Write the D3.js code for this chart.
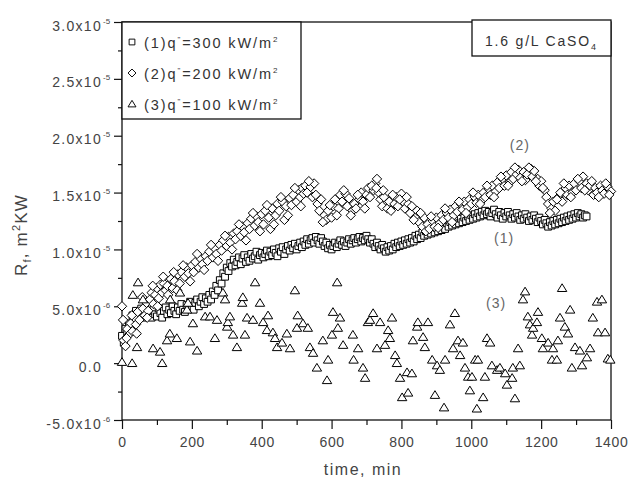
<!DOCTYPE html>
<html>
<head>
<meta charset="utf-8">
<script src="https://cdn.jsdelivr.net/npm/d3@7"></script>
<style>
  body { margin: 0; background: #fff; }
  text { font-family: "Liberation Sans", Arial, sans-serif; }
</style>
</head>
<body>
<svg id="chart"></svg>
<script>
// fouling resistance, values in 1e-6 m2K/W, time in min
const series1 = [[0,2.4],[5,1.8],[10,3.0],[15,2.6],[20,3.5],[25,3.1],[30,4.2],[35,3.6],[40,4.6],[45,3.9],[50,4.3],[55,4.8],[60,4.0],[65,4.6],[70,4.2],[75,4.9],[80,4.4],[85,4.0],[90,4.7],[95,4.3],[100,4.1],[105,4.8],[110,4.4],[115,4.0],[120,4.6],[125,4.9],[130,4.3],[135,4.7],[140,4.4],[145,5.0],[150,4.6],[155,4.3],[160,4.9],[165,4.6],[170,5.2],[175,4.7],[180,4.5],[185,5.1],[190,4.8],[195,5.4],[200,5.0],[205,4.7],[210,5.3],[215,5.6],[220,5.0],[225,5.4],[230,5.8],[235,5.2],[240,5.7],[245,5.4],[250,6.0],[255,5.6],[260,6.3],[265,6.0],[270,6.8],[275,6.4],[280,7.3],[285,7.0],[290,7.9],[295,7.6],[300,8.4],[305,8.1],[310,8.8],[315,8.5],[320,9.1],[325,8.6],[330,8.9],[335,9.3],[340,8.7],[345,9.2],[350,9.5],[355,8.9],[360,9.3],[365,9.0],[370,9.6],[375,9.2],[380,9.4],[385,9.8],[390,9.1],[395,9.5],[400,9.7],[405,9.3],[410,9.6],[415,9.9],[420,9.4],[425,9.8],[430,9.5],[435,10.0],[440,9.7],[445,9.4],[450,10.1],[455,9.8],[460,10.2],[465,9.6],[470,10.0],[475,10.3],[480,9.9],[485,10.4],[490,10.1],[495,10.5],[500,10.0],[505,10.3],[510,10.6],[515,10.2],[520,10.7],[525,10.4],[530,10.9],[535,10.5],[540,10.8],[545,11.0],[550,10.6],[555,11.1],[560,10.8],[565,10.5],[570,11.0],[575,10.7],[580,10.3],[585,10.6],[590,10.1],[595,10.4],[600,10.0],[605,10.3],[610,10.6],[615,10.2],[620,10.5],[625,10.8],[630,10.4],[635,10.7],[640,10.3],[645,10.6],[650,10.9],[655,10.5],[660,10.8],[665,11.0],[670,10.6],[675,10.9],[680,11.1],[685,10.7],[690,11.0],[695,10.8],[700,11.2],[705,10.9],[710,10.6],[715,10.9],[720,10.5],[725,10.2],[730,10.6],[735,10.3],[740,10.0],[745,10.4],[750,10.1],[755,9.8],[760,10.2],[765,9.9],[770,10.3],[775,10.0],[780,10.5],[785,10.2],[790,10.6],[795,10.3],[800,10.7],[805,10.4],[810,10.8],[815,10.5],[820,10.9],[825,10.6],[830,11.0],[835,10.7],[840,11.2],[845,10.9],[850,11.3],[855,11.0],[860,11.5],[865,11.2],[870,11.6],[875,11.3],[880,11.7],[885,11.4],[890,11.8],[895,11.5],[900,11.9],[905,11.6],[910,12.0],[915,11.7],[920,12.1],[925,11.8],[930,12.3],[935,12.0],[940,12.4],[945,12.1],[950,12.5],[955,12.2],[960,12.6],[965,12.3],[970,12.7],[975,12.4],[980,12.8],[985,12.5],[990,12.9],[995,12.6],[1000,13.0],[1005,12.7],[1010,13.1],[1015,12.8],[1020,13.2],[1025,12.9],[1030,13.3],[1035,13.0],[1040,13.4],[1045,13.1],[1050,13.3],[1055,12.9],[1060,13.2],[1065,13.5],[1070,13.1],[1075,12.8],[1080,13.3],[1085,13.0],[1090,12.7],[1095,13.2],[1100,12.9],[1105,13.3],[1110,13.0],[1115,12.7],[1120,13.1],[1125,12.8],[1130,13.2],[1135,12.9],[1140,12.6],[1145,13.0],[1150,12.7],[1155,13.1],[1160,12.8],[1165,12.5],[1170,12.9],[1175,12.6],[1180,13.0],[1185,12.7],[1190,12.4],[1195,12.8],[1200,12.5],[1205,12.2],[1210,12.6],[1215,12.3],[1220,12.0],[1225,12.4],[1230,12.1],[1235,12.5],[1240,12.2],[1245,12.6],[1250,12.3],[1255,12.7],[1260,12.4],[1265,12.8],[1270,12.5],[1275,12.9],[1280,12.6],[1285,13.0],[1290,12.7],[1295,13.1],[1300,12.8],[1305,13.2],[1310,12.9],[1315,13.1],[1320,12.8],[1325,13.0],[1330,12.9]];

const series2 = [[0,5.0],[5,2.0],[10,1.5],[15,3.0],[20,2.5],[25,3.5],[30,2.8],[35,4.0],[40,3.4],[45,4.5],[50,3.8],[60,4.8],[65,4.2],[70,5.3],[75,4.6],[80,5.6],[85,6.2],[90,5.2],[95,6.0],[100,6.6],[105,5.7],[110,6.9],[115,6.2],[120,7.0],[125,6.4],[130,6.8],[140,7.4],[145,6.6],[150,7.2],[160,7.8],[165,7.0],[170,8.0],[180,7.6],[185,8.4],[190,7.9],[200,8.6],[205,8.0],[210,8.9],[220,8.4],[225,9.2],[230,8.7],[240,9.4],[245,9.0],[250,9.8],[260,9.3],[265,10.1],[270,9.6],[280,10.4],[285,9.9],[290,10.8],[300,10.3],[305,11.1],[310,10.6],[320,11.4],[325,10.9],[330,11.6],[340,11.2],[345,12.0],[350,11.5],[360,12.3],[365,11.8],[370,12.7],[380,12.1],[385,12.9],[390,12.4],[400,13.1],[405,12.2],[410,13.4],[420,12.8],[425,11.8],[430,13.6],[440,13.0],[445,14.0],[450,13.4],[460,14.2],[465,12.6],[470,13.8],[480,14.5],[485,13.9],[490,14.8],[500,14.2],[505,15.2],[510,14.6],[515,15.4],[520,14.9],[525,15.6],[530,15.0],[540,15.5],[545,14.6],[550,15.8],[560,14.0],[565,13.4],[570,14.4],[580,13.0],[585,12.6],[590,13.4],[600,12.8],[605,13.8],[610,14.4],[620,13.6],[625,14.8],[630,14.2],[640,14.9],[645,13.8],[650,14.5],[660,13.4],[665,14.0],[670,13.6],[680,14.4],[685,15.0],[690,14.2],[700,14.8],[705,15.4],[710,14.6],[720,15.2],[725,15.8],[730,16.2],[735,15.0],[740,14.4],[745,13.8],[750,14.6],[760,13.6],[765,14.2],[770,13.4],[780,14.0],[785,14.6],[790,13.8],[800,14.9],[805,14.2],[810,13.6],[820,14.0],[825,13.2],[830,13.8],[840,12.8],[845,13.4],[850,12.4],[860,12.0],[865,12.8],[870,11.6],[875,12.2],[880,11.8],[890,12.5],[895,12.0],[900,12.8],[910,12.3],[915,13.0],[920,12.6],[930,13.2],[935,12.8],[940,13.5],[950,13.0],[955,13.8],[960,13.3],[970,14.0],[975,13.5],[980,14.2],[990,13.7],[995,14.4],[1000,14.0],[1010,14.6],[1015,14.1],[1020,14.8],[1030,14.3],[1035,15.0],[1040,14.6],[1050,15.3],[1055,14.8],[1060,15.6],[1070,15.1],[1075,15.9],[1080,15.4],[1090,16.2],[1095,15.6],[1100,16.5],[1110,15.9],[1115,16.8],[1120,16.2],[1130,16.6],[1135,17.0],[1140,16.3],[1150,16.8],[1155,16.1],[1160,16.6],[1170,17.1],[1175,16.4],[1180,16.9],[1190,16.2],[1195,15.6],[1200,16.0],[1210,15.2],[1215,14.6],[1220,14.0],[1230,13.6],[1235,14.2],[1240,13.4],[1250,14.6],[1255,15.0],[1260,14.2],[1270,15.4],[1275,14.8],[1280,15.6],[1290,15.0],[1295,15.8],[1300,15.2],[1310,16.0],[1315,15.4],[1320,16.4],[1330,15.8],[1335,15.2],[1340,15.6],[1350,14.8],[1355,15.4],[1360,15.0],[1370,15.6],[1375,15.2],[1380,14.9],[1390,15.5],[1400,15.1],
  [3,3.8],[13,2.2],[28,4.2],[42,2.6],[58,5.8],[72,4.0],[88,6.8],[102,5.0],[118,7.6],[132,6.0],[148,8.0],[158,6.4],[175,8.6],[195,7.2],[215,9.6],[235,8.2],[255,10.4],[275,9.0],[295,11.2],[315,10.0],[335,12.2],[355,10.8],[375,13.2],[395,11.6],[415,13.9],[435,12.2],[455,14.6],[475,13.0],[495,15.4],[512,13.8],[535,16.0],[555,14.8],[575,12.4],[595,13.9],[615,13.0],[635,15.2],[655,13.0],[675,14.8],[695,13.6],[715,15.6],[728,15.4],[748,15.2],[775,14.8],[795,14.4],[815,14.6],[835,12.6],[855,13.2],[885,12.9],[905,11.9],[925,13.6],[945,12.4],[965,14.2],[985,13.2],[1005,15.0],[1025,14.0],[1045,15.6],[1065,14.6],[1085,16.4],[1105,15.6],[1125,17.2],[1145,16.0],[1165,17.2],[1185,16.0],[1205,15.4],[1225,13.2],[1245,14.4],[1265,15.8],[1285,14.6],[1305,16.2],[1325,15.2],[1345,16.0],[1365,14.6],[1385,15.8],[1395,14.8]];

const series3 = [[0,0.1],[29,0],[31,6.0],[43,1.4],[46,7.1],[60,5.6],[89,1.3],[109,1.0],[115,0],[129,2.0],[137,2.6],[138,5.6],[157,2.2],[166,6.2],[186,4.7],[189,5.3],[195,1.9],[203,3.5],[215,1.1],[238,4.1],[252,4.1],[266,2.2],[272,3.8],[289,6.2],[295,5.6],[301,3.2],[303,3.6],[309,4.1],[318,2.5],[329,1.4],[344,5.3],[346,5.8],[352,2.5],[358,4.0],[375,3.8],[381,7.1],[395,5.3],[404,3.6],[415,2.9],[418,4.2],[432,2.7],[438,2.2],[444,1.4],[458,1.8],[472,2.6],[481,1.3],[495,6.4],[501,3.1],[503,4.2],[518,3.5],[532,3.1],[538,1.4],[547,0.9],[558,-0.4],[575,2.0],[587,-1.5],[590,0.3],[601,2.5],[604,4.5],[616,7.1],[618,3.1],[624,4.0],[633,1.6],[661,2.5],[663,0.3],[676,1.3],[690,-0.4],[696,-1.3],[704,3.6],[710,3.8],[719,4.4],[730,1.3],[739,3.6],[753,1.6],[762,2.9],[767,2.2],[773,4.0],[782,0.7],[787,0],[796,-1.3],[802,-3.0],[816,-0.8],[819,-2.6],[830,-0.9],[833,2.0],[845,3.2],[847,3.6],[862,2.3],[867,1.4],[876,3.6],[888,0.3],[896,-2.8],[902,-0.2],[910,-0.6],[922,-3.9],[925,0.3],[939,3.4],[948,1.3],[953,4.4],[962,2.0],[968,0.7],[976,1.8],[982,-0.4],[991,-1.2],[996,-2.4],[1002,-1.2],[1011,0.3],[1016,-4.0],[1019,0.3],[1034,-3.0],[1039,-1.2],[1045,2.2],[1054,1.8],[1059,-0.2],[1074,-0.6],[1082,-0.4],[1097,-0.9],[1102,-1.9],[1117,-1.3],[1119,-0.4],[1125,-3.1],[1134,1.3],[1139,-0.2],[1148,5.6],[1154,6.3],[1162,4.1],[1168,3.4],[1174,2.5],[1177,3.1],[1188,3.6],[1191,4.5],[1202,2.2],[1205,1.3],[1220,1.8],[1231,0.3],[1234,1.3],[1245,0.3],[1248,2.0],[1254,4.0],[1260,6.6],[1268,3.2],[1277,2.6],[1283,4.7],[1288,-0.4],[1297,1.4],[1311,1.1],[1317,-0.2],[1331,0.5],[1340,1.3],[1348,4.0],[1360,5.4],[1363,2.7],[1374,5.6],[1383,2.7],[1391,0.4],[1398,0.3]];

const xTicks = [0, 200, 400, 600, 800, 1000, 1200, 1400];
const xMinorTicks = [100, 300, 500, 700, 900, 1100, 1300];
const yTicks = [-5e-6, 0, 5e-6, 1e-5, 1.5e-5, 2e-5, 2.5e-5, 3e-5];
const yTickLabels = [['-5.0x10', '-6'], ['0.0', ''], ['5.0x10', '-6'], ['1.0x10', '-5'],
  ['1.5x10', '-5'], ['2.0x10', '-5'], ['2.5x10', '-5'], ['3.0x10', '-5']];
const yMinorTicks = [-2.5e-6, 2.5e-6, 7.5e-6, 1.25e-5, 1.75e-5, 2.25e-5, 2.75e-5];
const legendNames = ['(1)', '(2)', '(3)'];
const legendFlux = ['=300 kW/m', '=200 kW/m', '=100 kW/m'];
// curve labels: [text, time, value in 1e-6]
const curveLabels = [['(2)', 1139, 18.7], ['(1)', 1094, 10.6], ['(3)', 1071, 4.85]];

const width = 628, height = 480;
const margin = { top: 22, right: 17, bottom: 60, left: 122 };
const E6 = 1e-6;

const svg = d3.select('#chart').attr('width', width).attr('height', height);

const x = d3.scaleLinear().domain([0, 1400]).range([margin.left, width - margin.right]);
const y = d3.scaleLinear().domain([-5e-6, 3e-5]).range([height - margin.bottom, margin.top]);

const symbols = [
  'M-3.4,-3.4H3.4V3.4H-3.4Z',
  'M0,-4.7L4.7,0L0,4.7L-4.7,0Z',
  'M0,-4.3L4.7,3.4H-4.7Z'
];

// axes
const xAxis = svg.append('g')
  .attr('transform', `translate(0,${y.range()[0]})`)
  .call(d3.axisBottom(x).tickValues(xTicks).tickSize(9).tickPadding(8)
    .tickSizeOuter(0).tickFormat(d3.format('d')));
svg.append('g')
  .attr('transform', `translate(0,${y.range()[0]})`)
  .call(d3.axisBottom(x).tickValues(xMinorTicks).tickSize(5).tickFormat('').tickSizeOuter(0));
svg.append('g')
  .attr('transform', `translate(${x.range()[0]},0)`)
  .call(d3.axisLeft(y).tickValues(yTicks).tickSize(8).tickFormat('').tickSizeOuter(0));
svg.append('g')
  .attr('transform', `translate(${x.range()[0]},0)`)
  .call(d3.axisLeft(y).tickValues(yMinorTicks).tickSize(4).tickFormat('').tickSizeOuter(0));

svg.selectAll('.domain').remove();
svg.selectAll('.tick line').attr('stroke', '#111').attr('stroke-width', 1.2);
xAxis.selectAll('text')
  .attr('font-size', 14).attr('fill', '#444').attr('letter-spacing', 0.6)
  .style('font-family', '"Liberation Sans", Arial, sans-serif');

// y tick labels with exponents
const yLab = svg.append('g');
yTicks.forEach((v, i) => {
  const [base, exp] = yTickLabels[i];
  yLab.append('text')
    .attr('x', 102).attr('y', y(v) + 8.5)
    .attr('text-anchor', 'end')
    .attr('font-size', 14).attr('fill', '#444').attr('letter-spacing', 1.3)
    .text(base);
  if (exp) {
    yLab.append('text')
      .attr('x', 103).attr('y', y(v) + 1.5)
      .attr('font-size', 8).attr('fill', '#444')
      .text(exp);
  }
});

// frame
svg.append('rect')
  .attr('x', x.range()[0]).attr('y', y.range()[1])
  .attr('width', x.range()[1] - x.range()[0])
  .attr('height', y.range()[0] - y.range()[1])
  .attr('fill', 'none').attr('stroke', '#111').attr('stroke-width', 1.3);

// points
[series1, series2, series3].forEach((s, i) => {
  svg.append('g').selectAll('path')
    .data(s)
    .enter()
    .append('path')
    .attr('d', symbols[i])
    .attr('transform', (d) => `translate(${x(d[0])},${y(d[1] * E6)})`)
    .attr('fill', '#fff')
    .attr('stroke', '#000')
    .attr('stroke-width', 1);
});

// curve labels
curveLabels.forEach(([t, tx, v]) => {
  svg.append('text')
    .attr('x', x(tx)).attr('y', y(v * E6))
    .attr('text-anchor', 'middle')
    .attr('font-size', 14).attr('fill', '#666').attr('letter-spacing', 1)
    .text(t);
});

// legend
const legend = svg.append('g');
legend.append('rect')
  .attr('x', 122).attr('y', 22).attr('width', 179).attr('height', 97)
  .attr('fill', '#fff').attr('stroke', '#111').attr('stroke-width', 1.3);
legendNames.forEach((name, i) => {
  const cy = 42 + i * 31;
  legend.append('path')
    .attr('d', symbols[i])
    .attr('transform', `translate(132,${cy}) scale(0.85)`)
    .attr('fill', '#fff').attr('stroke', '#000').attr('stroke-width', 1.1);
  const t = legend.append('text')
    .attr('x', 144).attr('y', cy + 6)
    .attr('font-size', 14.5).attr('fill', '#333').attr('letter-spacing', 1.9);
  t.append('tspan').text(name + 'q');
  t.append('tspan').attr('dy', -6).attr('font-size', 8).text('"');
  t.append('tspan').attr('dy', 6).text(legendFlux[i]);
  t.append('tspan').attr('dy', -6).attr('font-size', 8).text('2');
});

// solution annotation
svg.append('rect')
  .attr('x', 472).attr('y', 20).attr('width', 139).attr('height', 36)
  .attr('fill', '#fff').attr('stroke', '#111').attr('stroke-width', 1.3);
const note = svg.append('text')
  .attr('x', 485).attr('y', 46)
  .attr('font-size', 14).attr('fill', '#333').attr('letter-spacing', 1.8);
note.append('tspan').text('1.6 g/L CaSO');
note.append('tspan').attr('dy', 4).attr('font-size', 9).text('4');

// axis titles
svg.append('text')
  .attr('x', 363).attr('y', 475)
  .attr('text-anchor', 'middle')
  .attr('font-size', 16).attr('fill', '#444').attr('letter-spacing', 1.5)
  .text('time, min');

const yt = svg.append('text')
  .attr('transform', 'translate(27,235) rotate(-90)')
  .attr('text-anchor', 'middle')
  .attr('font-size', 17).attr('fill', '#444').attr('letter-spacing', 1.2);
yt.append('tspan').text('R');
yt.append('tspan').attr('dy', 4).attr('font-size', 11).text('f');
yt.append('tspan').attr('dy', -4).text(', m');
yt.append('tspan').attr('dy', -7).attr('font-size', 11).text('2');
yt.append('tspan').attr('dy', 7).text('KW');
</script>
</body>
</html>
